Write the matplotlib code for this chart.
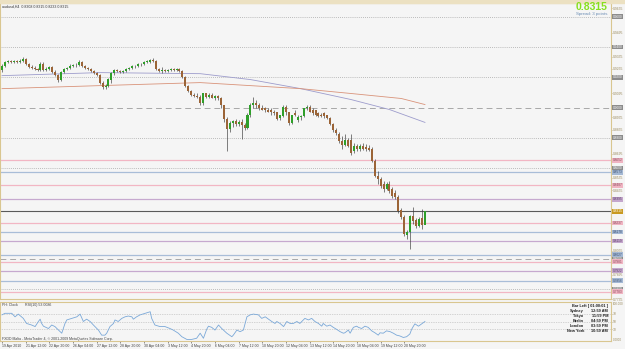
import numpy as np
import matplotlib
matplotlib.use('Agg')
import matplotlib.pyplot as plt
import matplotlib.transforms as mtransforms

plt.rcParams['font.family'] = ['Liberation Sans', 'DejaVu Sans']

# AUDUSD H4 candles, 19 Apr - 21 May 2010
opens = [0.9250, 0.9277, 0.9303, 0.9310, 0.9303, 0.9310, 0.9303, 0.9310, 0.9323, 0.9290,
         0.9270, 0.9264, 0.9257, 0.9250, 0.9290, 0.9250, 0.9257, 0.9270, 0.9237, 0.9218,
         0.9185, 0.9237, 0.9257, 0.9264, 0.9277, 0.9283, 0.9283, 0.9303, 0.9277, 0.9264,
         0.9257, 0.9244, 0.9231, 0.9218, 0.9165, 0.9139, 0.9145, 0.9185, 0.9231, 0.9250,
         0.9244, 0.9237, 0.9244, 0.9257, 0.9264, 0.9277, 0.9277, 0.9290, 0.9290, 0.9303,
         0.9303, 0.9316, 0.9310, 0.9257, 0.9244, 0.9250, 0.9244, 0.9250, 0.9257, 0.9250,
         0.9257, 0.9244, 0.9204, 0.9145, 0.9112, 0.9086, 0.9079, 0.9073, 0.9027, 0.9093,
         0.9073, 0.9086, 0.9066, 0.9079, 0.9060, 0.9014, 0.8922, 0.8856, 0.8895, 0.8908,
         0.8889, 0.8902, 0.8882, 0.8862, 0.8948, 0.9014, 0.9033, 0.9014, 0.9000, 0.9000,
         0.8987, 0.8981, 0.8968, 0.8968, 0.8928, 0.8941, 0.9007, 0.8968, 0.8895, 0.8961,
         0.8915, 0.8935, 0.8941, 0.8994, 0.9007, 0.8987, 0.8981, 0.8961, 0.8954, 0.8961,
         0.8948, 0.8928, 0.8889, 0.8849, 0.8823, 0.8777, 0.8750, 0.8783, 0.8783, 0.8711,
         0.8744, 0.8724, 0.8744, 0.8737, 0.8731, 0.8724, 0.8645, 0.8547, 0.8527, 0.8494,
         0.8461, 0.8494, 0.8461, 0.8435, 0.8408, 0.8323, 0.8277, 0.8158, 0.8178, 0.8283,
         0.8257, 0.8218, 0.8270, 0.8224]
closes = [0.9277, 0.9303, 0.9310, 0.9303, 0.9310, 0.9303, 0.9310, 0.9323, 0.9290, 0.9270,
          0.9264, 0.9257, 0.9250, 0.9290, 0.9250, 0.9257, 0.9270, 0.9237, 0.9218, 0.9185,
          0.9237, 0.9257, 0.9264, 0.9277, 0.9283, 0.9280, 0.9303, 0.9277, 0.9264, 0.9257,
          0.9244, 0.9231, 0.9218, 0.9165, 0.9139, 0.9145, 0.9191, 0.9231, 0.9250, 0.9244,
          0.9237, 0.9244, 0.9257, 0.9264, 0.9277, 0.9274, 0.9290, 0.9287, 0.9303, 0.9307,
          0.9316, 0.9310, 0.9257, 0.9244, 0.9247, 0.9244, 0.9250, 0.9257, 0.9250, 0.9257,
          0.9244, 0.9204, 0.9145, 0.9112, 0.9086, 0.9079, 0.9073, 0.9027, 0.9093, 0.9073,
          0.9086, 0.9066, 0.9079, 0.9060, 0.9014, 0.8922, 0.8856, 0.8895, 0.8908, 0.8889,
          0.8902, 0.8882, 0.8862, 0.8948, 0.9014, 0.9033, 0.9014, 0.9000, 0.8987, 0.8987,
          0.8974, 0.8968, 0.8961, 0.8922, 0.8948, 0.9007, 0.8968, 0.8895, 0.8948, 0.8948,
          0.8935, 0.8941, 0.8994, 0.9007, 0.8974, 0.8961, 0.8954, 0.8941, 0.8941, 0.8941,
          0.8928, 0.8889, 0.8849, 0.8829, 0.8777, 0.8750, 0.8783, 0.8744, 0.8698, 0.8744,
          0.8724, 0.8744, 0.8724, 0.8724, 0.8718, 0.8645, 0.8547, 0.8527, 0.8481, 0.8461,
          0.8494, 0.8448, 0.8415, 0.8408, 0.8316, 0.8277, 0.8165, 0.8178, 0.8283, 0.8250,
          0.8218, 0.8264, 0.8224, 0.8315]
highs = [0.9290, 0.9310, 0.9316, 0.9316, 0.9316, 0.9316, 0.9323, 0.9336, 0.9329, 0.9297,
         0.9283, 0.9277, 0.9264, 0.9303, 0.9303, 0.9270, 0.9277, 0.9277, 0.9250, 0.9224,
         0.9244, 0.9264, 0.9270, 0.9290, 0.9290, 0.9297, 0.9316, 0.9310, 0.9283, 0.9270,
         0.9264, 0.9250, 0.9237, 0.9224, 0.9178, 0.9158, 0.9198, 0.9237, 0.9257, 0.9257,
         0.9250, 0.9250, 0.9264, 0.9270, 0.9283, 0.9283, 0.9297, 0.9297, 0.9310, 0.9316,
         0.9323, 0.9329, 0.9316, 0.9264, 0.9270, 0.9257, 0.9257, 0.9264, 0.9264, 0.9264,
         0.9264, 0.9250, 0.9211, 0.9152, 0.9119, 0.9099, 0.9093, 0.9086, 0.9099, 0.9099,
         0.9093, 0.9093, 0.9086, 0.9086, 0.9073, 0.9020, 0.8935, 0.8908, 0.8915, 0.8922,
         0.8915, 0.8922, 0.8895, 0.8961, 0.9027, 0.9073, 0.9047, 0.9027, 0.9014, 0.9007,
         0.9000, 0.8994, 0.8981, 0.8974, 0.8954, 0.9020, 0.9014, 0.8974, 0.8954, 0.8981,
         0.8948, 0.8948, 0.9000, 0.9020, 0.9014, 0.8994, 0.8987, 0.8974, 0.8961, 0.8968,
         0.8954, 0.8935, 0.8895, 0.8862, 0.8836, 0.8810, 0.8823, 0.8797, 0.8823, 0.8764,
         0.8757, 0.8757, 0.8764, 0.8757, 0.8750, 0.8737, 0.8658, 0.8579, 0.8540, 0.8514,
         0.8507, 0.8514, 0.8474, 0.8454, 0.8422, 0.8336, 0.8290, 0.8191, 0.8290, 0.8343,
         0.8270, 0.8277, 0.8329, 0.8318]
lows = [0.9237, 0.9270, 0.9297, 0.9297, 0.9297, 0.9297, 0.9297, 0.9303, 0.9283, 0.9264,
        0.9257, 0.9250, 0.9244, 0.9244, 0.9244, 0.9244, 0.9250, 0.9231, 0.9211, 0.9172,
        0.9178, 0.9231, 0.9250, 0.9257, 0.9270, 0.9270, 0.9277, 0.9270, 0.9257, 0.9250,
        0.9237, 0.9224, 0.9211, 0.9158, 0.9125, 0.9125, 0.9139, 0.9165, 0.9218, 0.9237,
        0.9231, 0.9231, 0.9237, 0.9250, 0.9257, 0.9264, 0.9270, 0.9277, 0.9283, 0.9297,
        0.9297, 0.9303, 0.9250, 0.9237, 0.9231, 0.9237, 0.9237, 0.9244, 0.9244, 0.9244,
        0.9237, 0.9198, 0.9139, 0.9106, 0.9079, 0.9073, 0.9066, 0.9020, 0.9020, 0.9066,
        0.9060, 0.9060, 0.9053, 0.9053, 0.9000, 0.8902, 0.8711, 0.8836, 0.8869, 0.8875,
        0.8875, 0.8790, 0.8849, 0.8856, 0.8935, 0.9000, 0.9000, 0.8987, 0.8981, 0.8974,
        0.8968, 0.8954, 0.8948, 0.8915, 0.8915, 0.8935, 0.8954, 0.8882, 0.8889, 0.8941,
        0.8902, 0.8915, 0.8935, 0.8987, 0.8968, 0.8954, 0.8941, 0.8935, 0.8935, 0.8928,
        0.8922, 0.8882, 0.8836, 0.8816, 0.8764, 0.8724, 0.8744, 0.8737, 0.8685, 0.8698,
        0.8711, 0.8711, 0.8718, 0.8711, 0.8711, 0.8639, 0.8540, 0.8494, 0.8468, 0.8441,
        0.8454, 0.8435, 0.8402, 0.8395, 0.8303, 0.8264, 0.8152, 0.8132, 0.8066, 0.8231,
        0.8204, 0.8211, 0.8198, 0.8257]

# moving averages, read at a few bars
ma_fast_idx = [0, 33, 67, 84, 101, 118, 131, 143]
ma_fast = [0.9211, 0.9231, 0.9224, 0.9185, 0.9125, 0.9053, 0.8987, 0.8902]
ma_slow_idx = [0, 33, 67, 101, 118, 135, 143]
ma_slow = [0.9125, 0.9145, 0.9165, 0.9125, 0.9093, 0.9060, 0.9020]

# RSI(10) read at bar positions
rsi_idx = [0, 1.0, 3.3, 4.4, 5.5, 7.2, 8.3, 10.0, 11.2, 12.3, 12.9, 13.4, 14.0, 15.7, 16.8,
           17.9, 19.1, 20.2, 21.3, 21.9, 23.6, 25.3, 26.4, 27.5, 28.6, 29.8, 30.9, 32.6,
           33.7, 34.8, 35.4, 36.5, 37.7, 38.2, 39.3, 40.5, 41.6, 42.7, 43.9, 44.4, 45.5,
           46.7, 48.4, 50.1, 50.6, 51.7, 53.4, 55.1, 56.8, 57.9, 59.6, 60.8, 62.5, 64.1,
           65.8, 67.0, 68.1, 69.2, 69.8, 70.9, 72.0, 73.2, 74.3, 76.0, 77.7, 78.2, 79.4,
           80.5, 81.6, 82.8, 83.9, 85.0, 86.7, 87.8, 89.0, 90.1, 91.2, 92.3, 92.9, 94.0,
           95.2, 96.3, 97.4, 98.5, 99.7, 100.7, 102.4, 103.6, 104.7, 105.8, 107.0, 108.1,
           108.6, 109.8, 110.9, 112.0, 113.1, 114.3, 115.4, 115.9, 117.1, 117.7, 118.8,
           119.9, 120.5, 121.6, 122.7, 123.8, 125.0, 126.1, 127.2, 127.8, 128.9, 130.0,
           131.2, 132.3, 133.4, 134.5, 135.7, 136.8, 137.9, 138.5, 139.1, 139.6, 140.8,
           141.9, 143.0]
rsi = [67, 71, 71, 62, 69, 58, 45, 41, 37, 50, 56, 45, 38, 32, 41,
       37, 28, 20, 45, 54, 58, 62, 69, 50, 56, 50, 41, 28,
       15, 15, 20, 37, 45, 54, 50, 58, 62, 64, 62, 56, 62,
       67, 71, 75, 58, 41, 37, 37, 32, 28, 20, 11, 4, 4,
       7, 20, 7, 30, 38, 35, 28, 41, 32, 20, 11, 15, 28,
       24, 28, 62, 67, 69, 67, 58, 62, 56, 50, 45, 50, 45,
       37, 50, 45, 45, 50, 45, 58, 54, 58, 50, 45, 38,
       45, 38, 41, 35, 30, 24, 20, 21, 28, 20, 35,
       38, 35, 32, 38, 35, 26, 21, 15, 21, 20, 26,
       24, 20, 15, 13, 9, 11, 18, 30, 38, 44, 38,
       44, 50]
rsi_levels = [70, 50, 30]

# horizontal levels drawn on the chart
round_dotted = [0.96, 0.94, 0.92, 0.88, 0.86, 0.78]
round_dashed = [0.90, 0.80]
pink_levels = [0.8652, 0.8487, 0.8237, 0.7981, 0.7783]
blue_levels = [0.8573, 0.8178, 0.8027, 0.7856]
purple_levels = [0.8395, 0.8119, 0.7922]
last_price = 0.8315

price_ticks = [0.7735, 0.7815, 0.7895, 0.7975, 0.8055, 0.8135, 0.8215, 0.8295, 0.8375,
               0.8455, 0.8535, 0.8615, 0.8695, 0.8775, 0.8855, 0.8935, 0.9015, 0.9095,
               0.9175, 0.9255, 0.9335, 0.9415, 0.9495, 0.9575, 0.9655]
time_idx = [0, 8, 16, 24, 32, 40, 48, 56, 64, 72, 80, 88, 96, 104, 112, 120, 128, 136]
time_labels = ['19 Apr 2010', '21 Apr 12:00', '22 Apr 20:00', '26 Apr 04:00', '27 Apr 12:00',
               '28 Apr 20:00', '30 Apr 04:00', '3 May 12:00', '4 May 20:00', '6 May 04:00',
               '7 May 12:00', '10 May 20:00', '12 May 04:00', '13 May 12:00', '14 May 20:00',
               '18 May 04:00', '19 May 12:00', '20 May 20:00']

clock_cities = ['Sydney', 'Tokyo', 'Berlin', 'London', 'New York']
clock_times = ['12:59 AM', '11:59 PM', '04:59 PM', '03:59 PM', '10:59 AM']

BG = '#f5f5f5'
FRAME = '#d9c690'
AXTXT = '#9a8a5c'
BULL = '#2f9f2a'
BEAR = '#9b6437'

W, H = 625, 349
fig = plt.figure(figsize=(W / 100, H / 100), dpi=100, facecolor=BG)
ax = fig.add_axes([0, 1 - 299 / H, 611 / W, 296 / H], facecolor=BG)
ax2 = fig.add_axes([0, 1 - 341 / H, 611 / W, 39 / H], facecolor=BG)

# top beige strip
fig.patches.append(plt.Rectangle((0, 1 - 3 / H), 1, 3 / H, transform=fig.transFigure,
                                 color='#ece1c2', zorder=0))

for a in (ax, ax2):
    for s in a.spines.values():
        s.set_color(FRAME)
        s.set_linewidth(0.8)
    a.set_xlim(-0.68, 205.9)

ax.set_ylim(0.7744, 0.9691)
ax2.set_ylim(0, 100)

# level lines
for p in round_dotted:
    ax.axhline(p, color='#a8a8a8', lw=0.6, ls=(0, (1, 1.5)), zorder=1)
for p in round_dashed:
    ax.axhline(p, color='#a8a8a8', lw=0.7, ls=(0, (6, 4)), zorder=1)
for p in pink_levels:
    ax.axhline(p, color='#f2b6c4', lw=0.9, zorder=1)
for p in blue_levels:
    ax.axhline(p, color='#a9bdd8', lw=0.9, zorder=1)
for p in purple_levels:
    ax.axhline(p, color='#c6a9cf', lw=0.9, zorder=1)
ax.axhline(last_price, color='#5a5a5a', lw=0.8, zorder=1)

# moving averages
ax.plot(ma_fast_idx, ma_fast, color='#9d9ccc', lw=0.6, zorder=2)
ax.plot(ma_slow_idx, ma_slow, color='#d9937a', lw=0.6, zorder=2)

# candles
x = np.arange(len(closes))
o = np.array(opens)
c = np.array(closes)
up = c >= o
ax.vlines(x, lows, highs, color='#3a3a3a', lw=0.45, zorder=3)
body_lo = np.minimum(o, c)
body_h = np.maximum(np.abs(c - o), 0.00025)
ax.bar(x, body_h, bottom=body_lo, width=0.68,
       color=np.where(up, BULL, BEAR), edgecolor='none', zorder=4)

# price axis: the level tags sit on top of the plain labels, so drop the covered ones
tag_levels = round_dotted + round_dashed + pink_levels + blue_levels + purple_levels + [last_price]
shown_ticks = [t for t in price_ticks if min(abs(t - p) for p in tag_levels) > 0.0027]
ax.yaxis.tick_right()
ax.set_yticks(shown_ticks)
ax.set_yticklabels(['%.4f' % p for p in shown_ticks])
ax.tick_params(axis='y', labelsize=2.4, colors=AXTXT, length=1.0, width=0.4, pad=0.6)
ax.set_xticks([])

# level labels on the price axis
trans = mtransforms.blended_transform_factory(ax.transAxes, ax.transData)
def axis_tag(p, fc, tc='white'):
    ax.text(1.003, p, '%.4f' % p, transform=trans, fontsize=2.3, color=tc,
            va='center', ha='left', clip_on=False, zorder=6,
            bbox=dict(boxstyle='square,pad=0.12', fc=fc, ec='none'))

for p in round_dotted + round_dashed:
    axis_tag(p, '#8c8c8c')
for p in pink_levels:
    axis_tag(p, '#f0b4c2', '#8c5060')
for p in blue_levels:
    axis_tag(p, '#a4b8d4', '#3c5070')
for p in purple_levels:
    axis_tag(p, '#c4a6cc', '#5c4068')
axis_tag(last_price, '#c99a22')

# header texts
fig.text(2 / W, 1 - 7 / H, 'audusd,H4  0.8308 0.8315 0.8233 0.8315',
         fontsize=2.6, color='#303030', va='center', ha='left')
fig.text(608 / W, 1 - 7.5 / H, '%.4f' % last_price, fontsize=7.5, fontweight='bold',
         color='#86e01e', va='center', ha='right')
fig.text(607 / W, 1 - 14 / H, 'Spread: 3 points', fontsize=3.2, color='#6b8db5',
         va='center', ha='right')

# RSI panel
for lv in rsi_levels:
    ax2.axhline(lv, color='#b0b0b0', lw=0.5, ls=(0, (1, 1.5)))
ax2.plot(rsi_idx, rsi, color='#7aa8d8', lw=0.6)
ax2.yaxis.tick_right()
ax2.set_yticks(rsi_levels)
ax2.tick_params(axis='y', labelsize=2.4, colors=AXTXT, length=1.0, width=0.4, pad=0.6)
trans2 = mtransforms.blended_transform_factory(ax2.transAxes, ax2.transData)
ax2.text(1.003, 96, '100.000', transform=trans2, fontsize=2.2, color=AXTXT,
         va='center', clip_on=False)
ax2.text(1.003, 3, '0.0000', transform=trans2, fontsize=2.2, color=AXTXT,
         va='center', clip_on=False)
ax2.set_xticks(time_idx)
ax2.set_xticklabels(time_labels, ha='left')
ax2.tick_params(axis='x', labelsize=2.5, colors='#404040', length=1.2, width=0.4, pad=1.2)

fig.text(2 / W, 1 - 305 / H, 'PH: Clock', fontsize=2.6, color='#404040', va='center')
fig.text(25 / W, 1 - 305 / H, 'RSI(10) 53.0086', fontsize=2.6, color='#404040',
         va='center')
fig.text(2 / W, 1 - 339 / H,
         'FXDD Malta - MetaTrader 4, \u00a9 2001-2009 MetaQuotes Software Corp.',
         fontsize=2.5, color='#404040', va='center')

# session clock box
fig.text(608 / W, 1 - 306 / H, 'Bar Left [ 01:00:01 ]', fontsize=2.8,
         fontweight='bold', color='#202020', va='center', ha='right')
for k, (city, t) in enumerate(zip(clock_cities, clock_times)):
    yy = 1 - (311 + 4.9 * k) / H
    fig.text(584 / W, yy, city, fontsize=2.8, fontweight='bold', color='#202020',
             va='center', ha='right')
    fig.text(608 / W, yy, t, fontsize=2.8, fontweight='bold', color='#202020',
             va='center', ha='right')

fig.savefig('out.png', dpi=100, facecolor=BG)
